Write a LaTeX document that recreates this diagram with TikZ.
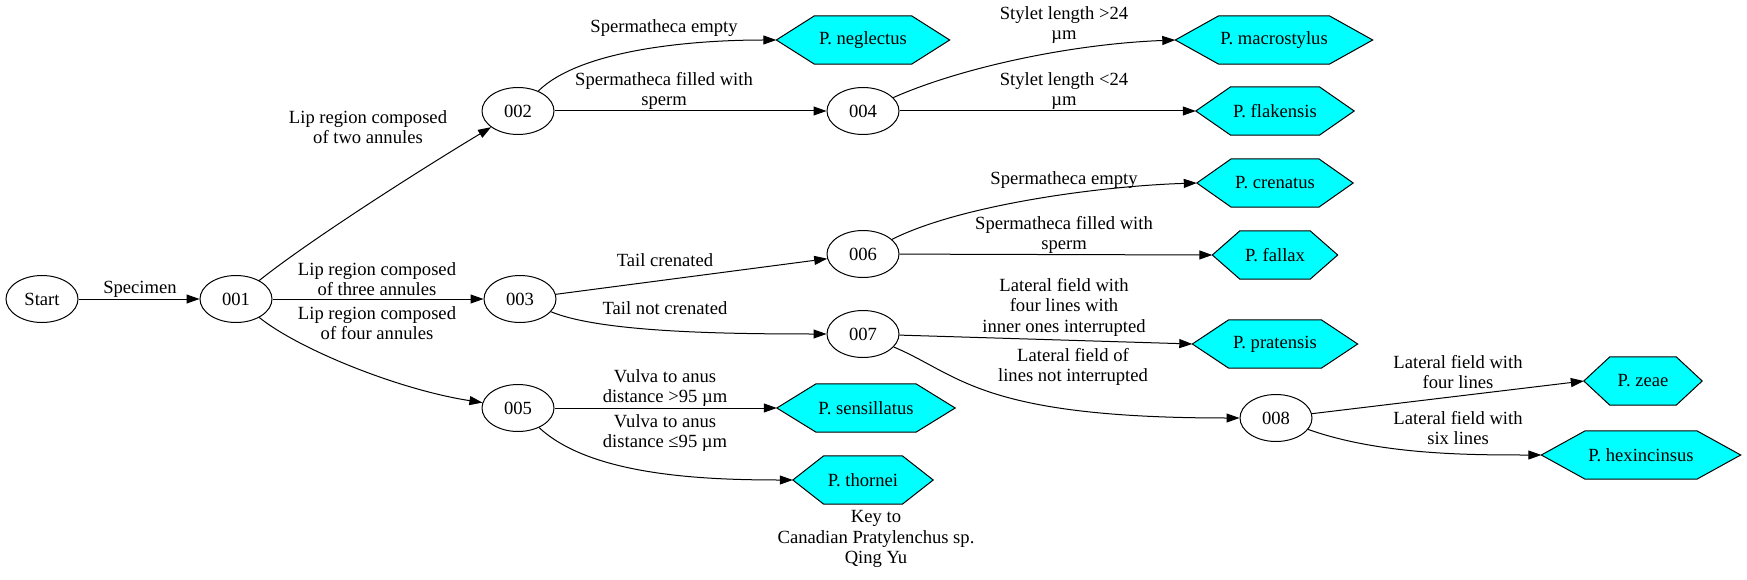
\documentclass[tikz,border=0pt]{standalone}
\usepackage{fontspec}
\setmainfont{Liberation Serif}
\usetikzlibrary{positioning,arrows.meta,calc,shapes.geometric,backgrounds}
\definecolor{aqua}{RGB}{0,255,255}

\begin{document}
\begin{tikzpicture}[x=1pt,y=-1pt,>={Triangle[length=13pt,width=9pt]},
  font=\fontsize{18.6}{20.5}\selectfont,
  state/.style={draw,ellipse,minimum width=72pt,minimum height=47pt,inner sep=0pt,line width=1pt},
  leaf/.style={rectangle,minimum width=#1,minimum height=48pt,inner sep=0pt},
  hexa/.style={fill=aqua,draw=black,line width=1pt},
  lbl/.style={align=center,inner sep=0pt},
  link/.style={->,line width=1pt}]
  \useasboundingbox (0,0) rectangle (1747,580);

  % decision nodes
  \node[state] (start) at (42,299) {Start};
  \node[state] (n001) at (236,299) {001};
  \node[state] (n002) at (518,111) {002};
  \node[state] (n003) at (520,299) {003};
  \node[state] (n004) at (863,111) {004};
  \node[state] (n005) at (518,408) {005};
  \node[state] (n006) at (863,254) {006};
  \node[state] (n007) at (863,334) {007};
  \node[state] (n008) at (1276,418) {008};

  % species
  \node[leaf=173pt] (neglectus) at (863,40) {P. neglectus};
  \node[leaf=197pt] (macrostylus) at (1274,40) {P. macrostylus};
  \node[leaf=158pt] (flakensis) at (1275,111) {P. flakensis};
  \node[leaf=156pt] (crenatus) at (1275,183) {P. crenatus};
  \node[leaf=125pt] (fallax) at (1275,255) {P. fallax};
  \node[leaf=165pt] (pratensis) at (1275,344) {P. pratensis};
  \node[leaf=178pt] (sensillatus) at (866,408) {P. sensillatus};
  \node[leaf=140pt] (thornei) at (863,480) {P. thornei};
  \node[leaf=118pt] (zeae) at (1643,381) {P. zeae};
  \node[leaf=199pt] (hexincinsus) at (1641,455) {P. hexincinsus};

  \begin{scope}[on background layer]
    \foreach \n in {neglectus,macrostylus,flakensis,crenatus,fallax,pratensis,sensillatus,thornei,zeae,hexincinsus}
      \draw[hexa] (\n.west) -- ($(\n.north west)!0.22!(\n.north east)$) -- ($(\n.north west)!0.78!(\n.north east)$)
        -- (\n.east) -- ($(\n.south west)!0.78!(\n.south east)$) -- ($(\n.south west)!0.22!(\n.south east)$) -- cycle;
  \end{scope}

  % edges
  \draw[link] (start) -- (n001);
  \draw[link] (n001) .. controls (310,240) and (420,170) .. (n002);
  \draw[link] (n001) -- (n003);
  \draw[link] (n001) .. controls (300,350) and (400,390) .. (n005);
  \draw[link] (n002) .. controls (580,50) and (690,40) .. (neglectus.west);
  \draw[link] (n002) -- (n004);
  \draw[link] (n004) .. controls (960,68) and (1070,44) .. (macrostylus.west);
  \draw[link] (n004) -- (flakensis.west);
  \draw[link] (n003) -- (n006);
  \draw[link] (n003) .. controls (600,332) and (720,334) .. (n007);
  \draw[link] (n006) .. controls (960,205) and (1100,186) .. (crenatus.west);
  \draw[link] (n006) -- (fallax.west);
  \draw[link] (n007) -- (pratensis.west);
  \draw[link] (n007) .. controls (960,375) and (980,418) .. (n008);
  \draw[link] (n008) -- (zeae.west);
  \draw[link] (n008) .. controls (1380,455) and (1470,455) .. (hexincinsus.west);
  \draw[link] (n005) -- (sensillatus.west);
  \draw[link] (n005) .. controls (590,475) and (700,480) .. (thornei.west);

  % edge labels
  \node[lbl] (lspec) at (140,289) {Specimen};
  \node[lbl] (ltwo) at (368,127) {Lip region composed\\of two annules};
  \node[lbl] (lthree) at (377,279) {Lip region composed\\of three annules};
  \node[lbl] (lfour) at (377,323) {Lip region composed\\of four annules};
  \node[lbl] (lempty) at (664,28) {Spermatheca empty};
  \node[lbl] (lfilled) at (664,91) {Spermatheca filled with\\sperm};
  \node[lbl] (llong) at (1064,25) {Stylet length >24\\µm};
  \node[lbl] (lshort) at (1064,91) {Stylet length <24\\µm};
  \node[lbl] (lcren) at (665,260) {Tail crenated};
  \node[lbl] (lnocren) at (665,308) {Tail not crenated};
  \node[lbl] (lempty2) at (1064,180) {Spermatheca empty};
  \node[lbl] (lfilled2) at (1064,235) {Spermatheca filled with\\sperm};
  \node[lbl] (linter) at (1064,307) {Lateral field with\\four lines with\\inner ones interrupted};
  \node[lbl] (lnointer) at (1073,367) {Lateral field of\\lines not interrupted};
  \node[lbl] (lfourl) at (1458,372) {Lateral field with\\four lines};
  \node[lbl] (lsixl) at (1458,428) {Lateral field with\\six lines};
  \node[lbl] (lvulgt) at (665,388) {Vulva to anus\\distance >95 µm};
  \node[lbl] (lvulle) at (665,433) {Vulva to anus\\distance ≤95 µm};

  % caption
  \node[lbl] (key) at (876,539) {Key to\\Canadian Pratylenchus sp.\\Qing Yu};
\end{tikzpicture}
\end{document}
